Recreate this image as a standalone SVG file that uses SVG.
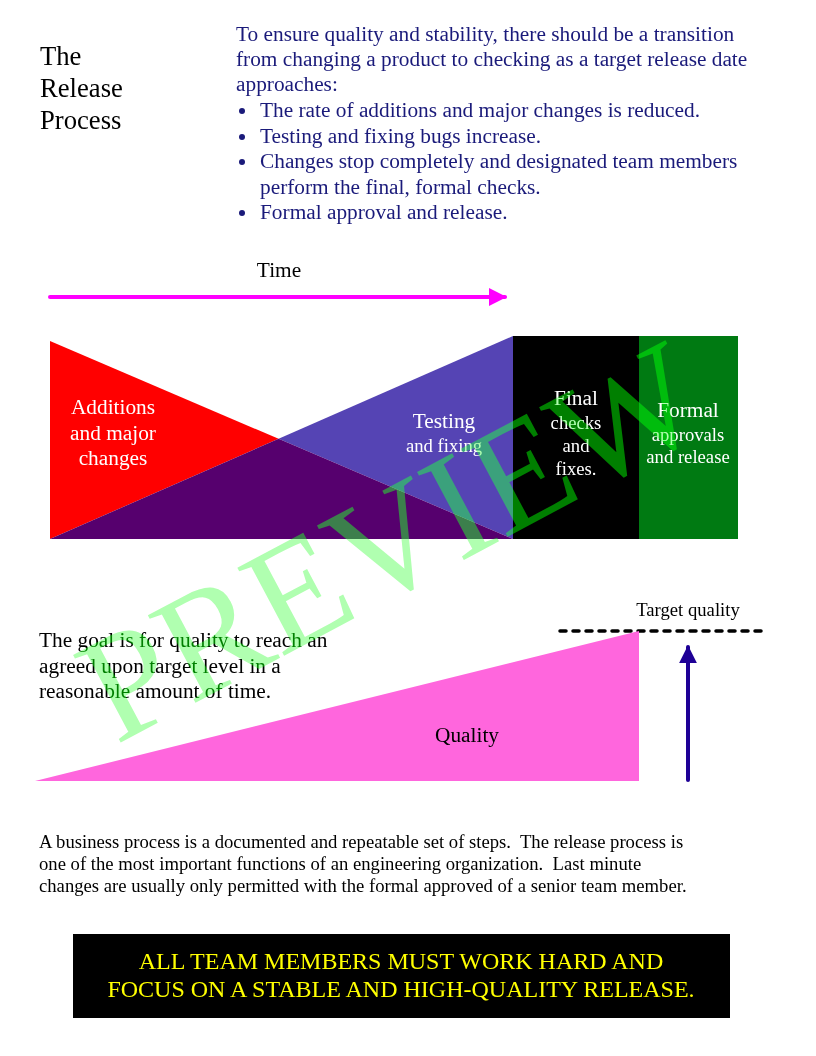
<svg xmlns="http://www.w3.org/2000/svg" width="816" height="1056" viewBox="0 0 816 1056">
<style>
text{font-family:"Liberation Serif","Times New Roman",serif;}
.w{fill:#ffffff;text-anchor:middle;}
.nv{fill:#1a1a7a;font-size:21.33px;}
.k{fill:#000000;}
.m{font-size:21.33px;}
.s{font-size:18.67px;}
</style>
<defs>
<marker id="mag" viewBox="0 0 10 10" refX="9" refY="5" markerWidth="4.5" markerHeight="4.5" markerUnits="strokeWidth" orient="auto"><path d="M0,0 L10,5 L0,10 z" fill="#ff00ff"/></marker>
<marker id="blu" viewBox="0 0 10 10" refX="9" refY="5" markerWidth="4.5" markerHeight="4.5" markerUnits="strokeWidth" orient="auto"><path d="M0,0 L10,5 L0,10 z" fill="#1e0096"/></marker>
</defs>
<rect width="816" height="1056" fill="#ffffff"/>
<g id="title">
<text class="k" x="40" y="65" font-size="26.67">The</text>
<text class="k" x="40" y="97" font-size="26.67">Release</text>
<text class="k" x="40" y="129" font-size="26.67">Process</text>
</g>
<g id="intro">
<text class="nv" x="236" y="41">To ensure quality and stability, there should be a transition</text>
<text class="nv" x="236" y="66">from changing a product to checking as a target release date</text>
<text class="nv" x="236" y="91">approaches:</text>
<circle cx="242" cy="111" r="3" fill="#1a1a7a"/>
<text class="nv" x="260" y="117">The rate of additions and major changes is reduced.</text>
<circle cx="242" cy="137" r="3" fill="#1a1a7a"/>
<text class="nv" x="260" y="143">Testing and fixing bugs increase.</text>
<circle cx="242" cy="162" r="3" fill="#1a1a7a"/>
<text class="nv" x="260" y="168">Changes stop completely and designated team members</text>
<text class="nv" x="260" y="194">perform the final, formal checks.</text>
<circle cx="242" cy="213" r="3" fill="#1a1a7a"/>
<text class="nv" x="260" y="219">Formal approval and release.</text>
</g>
<g id="time">
<text class="k m" x="279" y="277" text-anchor="middle">Time</text>
</g>
<g id="connectors">
<line x1="50" y1="297" x2="505" y2="297" stroke="#ff00ff" stroke-width="4" stroke-linecap="round" marker-end="url(#mag)"/>
<line x1="688" y1="780" x2="688" y2="647" stroke="#1e0096" stroke-width="4" stroke-linecap="round" marker-end="url(#blu)"/>
<line x1="560" y1="631" x2="765" y2="631" stroke="#000000" stroke-width="3.5" stroke-linecap="round" stroke-dasharray="6 7"/>
</g>
<g id="additions">
<polygon points="50,341 278.6,438.8 50,539" fill="#ff0000"/>
<text class="w m" x="113" y="414">Additions</text>
<text class="w m" x="113" y="440">and major</text>
<text class="w m" x="113" y="465">changes</text>
</g>
<g id="testing">
<polygon points="278.6,438.8 513,336 513,539" fill="#5544b4"/>
<polygon points="50,539 278.6,438.8 513,539" fill="#56006e"/>
<text class="w m" x="444" y="428">Testing</text>
<text class="w s" x="444" y="452">and fixing</text>
</g>
<g id="final">
<rect x="513" y="336" width="126" height="203" fill="#000000"/>
<text class="w m" x="576" y="405">Final</text>
<text class="w s" x="576" y="429">checks</text>
<text class="w s" x="576" y="452">and</text>
<text class="w s" x="576" y="475">fixes.</text>
</g>
<g id="formal">
<rect x="639" y="336" width="99" height="203" fill="#007a12"/>
<text class="w m" x="688" y="417">Formal</text>
<text class="w s" x="688" y="441">approvals</text>
<text class="w s" x="688" y="463">and release</text>
</g>
<g id="goal">
<text class="k m" x="39" y="647">The goal is for quality to reach an</text>
<text class="k m" x="39" y="673">agreed upon target level in a</text>
<text class="k m" x="39" y="698">reasonable amount of time.</text>
</g>
<g id="quality">
<polygon points="35,781 639,631 639,781" fill="#ff66dd"/>
<text class="k m" x="467" y="742" text-anchor="middle">Quality</text>
</g>
<g id="target">
<text class="k s" x="688" y="616" text-anchor="middle">Target quality</text>
</g>
<g id="business">
<text class="k s" x="39" y="848" xml:space="preserve">A business process is a documented and repeatable set of steps.  The release process is</text>
<text class="k s" x="39" y="870" xml:space="preserve">one of the most important functions of an engineering organization.  Last minute</text>
<text class="k s" x="39" y="892">changes are usually only permitted with the formal approved of a senior team member.</text>
</g>
<g id="banner">
<rect x="73" y="934" width="657" height="84" fill="#000000"/>
<text x="401" y="969" font-size="24" fill="#ffff00" text-anchor="middle">ALL TEAM MEMBERS MUST WORK HARD AND</text>
<text x="401" y="997" font-size="24" fill="#ffff00" text-anchor="middle">FOCUS ON A STABLE AND HIGH-QUALITY RELEASE.</text>
</g>
<g id="watermark">
<text x="0" y="0" font-size="152" fill="#58bf58" style="mix-blend-mode:hard-light" transform="translate(116,745) rotate(-28)">PREVIEW</text>
</g>
</svg>
